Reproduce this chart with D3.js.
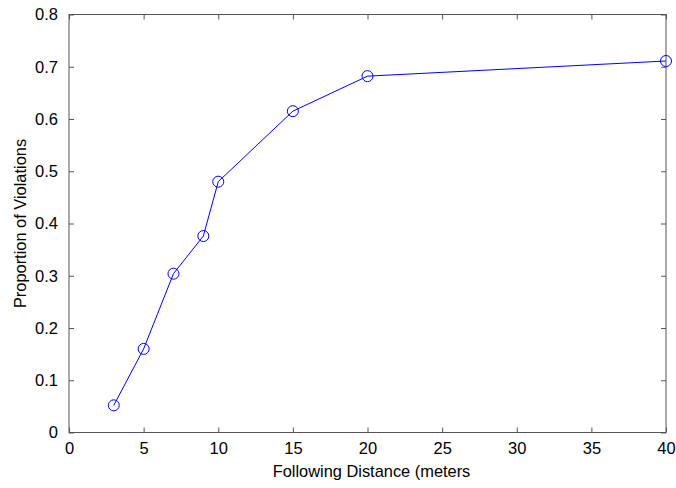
<!DOCTYPE html>
<head>
  <meta charset="utf-8">
  <script src="https://d3js.org/d3.v7.min.js"></script>
  <style>
    body { margin:0; background:#fff; }
    text { font-family: "Liberation Sans", Arial, sans-serif; fill:#000; }
    .axis path, .axis line { stroke:#555; }
  </style>
</head>
<body>
  <script>
    var distance = [3, 5, 7, 9, 10, 15, 20, 40];
    var proportion = [0.052, 0.160, 0.304, 0.376, 0.480, 0.615, 0.682, 0.711];
    var xTicks = [0, 5, 10, 15, 20, 25, 30, 35, 40];
    var yTicks = [0, 0.1, 0.2, 0.3, 0.4, 0.5, 0.6, 0.7, 0.8];

    var W = 676, H = 488;
    var mLeft = 69, mRight = 666, mTop = 14.5, mBottom = 432.5;

    var svg = d3.select("body").append("svg")
      .attr("width", W).attr("height", H);

    var x = d3.scaleLinear().domain([0, 40]).range([mLeft, mRight]);
    var y = d3.scaleLinear().domain([0, 0.8]).range([mBottom, mTop]);

    // frame
    svg.append("rect")
      .attr("x", mLeft).attr("y", mTop)
      .attr("width", mRight - mLeft).attr("height", mBottom - mTop)
      .attr("fill", "none").attr("stroke", "#555").attr("stroke-width", 1);

    var fmtY = function(d) { return d === 0 ? "0" : d3.format(".1f")(d); };

    // bottom axis, ticks inward
    var gx = svg.append("g").attr("class", "axis")
      .attr("transform", "translate(0," + mBottom + ")")
      .call(d3.axisBottom(x).tickValues(xTicks).tickSize(-5).tickPadding(10));
    gx.select(".domain").remove();
    gx.selectAll("text").style("font-size", "16.5px").attr("dy", "0.71em");

    var gxt = svg.append("g").attr("class", "axis")
      .attr("transform", "translate(0," + mTop + ")")
      .call(d3.axisTop(x).tickValues(xTicks).tickSize(-5).tickFormat(""));
    gxt.select(".domain").remove();

    var gy = svg.append("g").attr("class", "axis")
      .attr("transform", "translate(" + mLeft + ",0)")
      .call(d3.axisLeft(y).tickValues(yTicks).tickSize(-5).tickPadding(11).tickFormat(fmtY));
    gy.select(".domain").remove();
    gy.selectAll("text").style("font-size", "16.5px");

    var gyr = svg.append("g").attr("class", "axis")
      .attr("transform", "translate(" + mRight + ",0)")
      .call(d3.axisRight(y).tickValues(yTicks).tickSize(-5).tickFormat(""));
    gyr.select(".domain").remove();

    svg.selectAll(".axis .tick line").attr("stroke", "#555");

    // data line
    var pts = distance.map(function(d, i) { return [d, proportion[i]]; });
    var line = d3.line()
      .x(function(d) { return x(d[0]); })
      .y(function(d) { return y(d[1]); });

    svg.append("path").datum(pts)
      .attr("d", line)
      .attr("fill", "none").attr("stroke", "#0000ff").attr("stroke-width", 1);

    svg.selectAll("circle.pt").data(pts).enter()
      .append("circle").attr("class", "pt")
      .attr("cx", function(d) { return x(d[0]); })
      .attr("cy", function(d) { return y(d[1]); })
      .attr("r", 5.5)
      .attr("fill", "none").attr("stroke", "#0000ff").attr("stroke-width", 1);

    // labels
    svg.append("text")
      .attr("x", (mLeft + mRight) / 2 + 4).attr("y", 477)
      .attr("text-anchor", "middle").style("font-size", "16.4px")
      .text("Following Distance (meters");

    svg.append("text")
      .attr("transform", "translate(26," + ((mTop + mBottom) / 2) + ") rotate(-90)")
      .attr("text-anchor", "middle").style("font-size", "16.4px")
      .text("Proportion of Violations");
  </script>
</body>
